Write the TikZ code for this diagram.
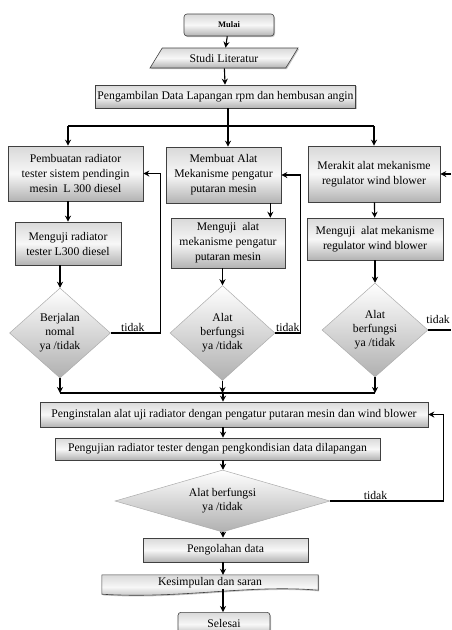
\documentclass[tikz,border=0pt]{standalone}
\usepackage{fontspec}
\setmainfont{Liberation Serif}
\usetikzlibrary{arrows.meta, positioning, shapes.geometric, shadows, calc, backgrounds}

\begin{document}
\begin{tikzpicture}[x=1pt, y=-1pt, font=\fontsize{11.7}{15}\selectfont,
  arr/.style={-{Stealth[length=6pt, width=6pt]}, line width=1.1pt},
  line/.style={line width=1.1pt},
  box/.style={draw=black!75, line width=0.6pt, top color=gray!30, bottom color=gray!60,
    middle color=gray!6, drop shadow={shadow xshift=1pt, shadow yshift=-1.2pt, opacity=0.45},
    align=center, inner sep=2pt},
  dec/.style={diamond, draw=gray!65, line width=0.5pt, top color=white, bottom color=gray!62,
    align=center, inner sep=0pt, aspect=1.1, font=\fontsize{11.7}{14}\selectfont},
  lbl/.style={inner sep=1pt, font=\fontsize{11.7}{12}\selectfont}]

\clip (0,0) rectangle (451,630);

% ---- start ---------------------------------------------------------------
\node[box, rounded corners=3pt, minimum width=90pt, minimum height=22pt,
  font=\fontsize{8.5}{9}\selectfont\bfseries] (mulai) at (229,25) {Mulai};
\node[box, trapezium, trapezium left angle=45, trapezium right angle=135,
  trapezium stretches body=true, minimum width=148pt, minimum height=20pt] (studi) at (224,58)
  {Studi Literatur};
\node[box, minimum width=255pt, minimum height=23pt] (ambil) at (225.5,96.5)
  {Pengambilan Data Lapangan rpm dan hembusan angin};

% ---- three branches -----------------------------------------------------
\node[box, minimum width=135pt, minimum height=55pt] (buat1) at (75.5,173.5)
  {Pembuatan radiator\\tester sistem pendingin\\mesin~ L 300 diesel};
\node[box, minimum width=106pt, minimum height=43pt] (uji1) at (68,243.5)
  {Menguji radiator\\tester L300 diesel};
\node[dec, minimum width=101pt, minimum height=90pt] (d1) at (60,333)
  {Berjalan\\nomal\\ya /tidak};

\node[box, minimum width=115pt, minimum height=56pt] (buat2) at (223.5,175)
  {Membuat Alat\\Mekanisme pengatur\\putaran mesin};
\node[box, minimum width=114pt, minimum height=50pt] (uji2) at (228,243)
  {Menguji~ alat\\mekanisme pengatur\\putaran mesin};
\node[dec, minimum width=105pt, minimum height=95pt] (d2) at (222.5,333)
  {Alat\\berfungsi\\ya /tidak};

\node[box, minimum width=132pt, minimum height=56pt] (buat3) at (374,174)
  {Merakit alat mekanisme\\regulator wind blower};
\node[box, minimum width=136pt, minimum height=42pt] (uji3) at (375,239)
  {Menguji~ alat mekanisme\\regulator wind blower};
\node[dec, minimum width=106pt, minimum height=94pt] (d3) at (375,330)
  {Alat\\berfungsi\\ya /tidak};

% ---- joined part --------------------------------------------------------
\node[box, minimum width=388pt, minimum height=25pt] (instal) at (234,414.5)
  {Penginstalan alat uji radiator dengan pengatur putaran mesin dan wind blower};
\node[box, minimum width=325pt, minimum height=22pt] (uji4) at (217.5,449)
  {Pengujian radiator tester dengan pengkondisian data dilapangan};
\node[dec, aspect=3.5, minimum width=215pt, minimum height=62pt] (d4) at (222.5,501)
  {Alat berfungsi\\ya /tidak};
\node[box, minimum width=165pt, minimum height=24pt] (olah) at (225.5,550)
  {Pengolahan data};
\node[inner sep=2pt, minimum width=216pt, minimum height=16pt] (simpul) at (210,583)
  {Kesimpulan dan saran};
\begin{scope}[on background layer]
  \path[box] (simpul.north west) -- (simpul.north east) -- ($(simpul.south east)+(0,-1)$)
    .. controls ($(simpul.south east)+(-70,-7)$) and ($(simpul.south west)+(80,8)$)
    .. ($(simpul.south west)+(0,3)$) -- cycle;
\end{scope}
\node[box, rounded corners=3pt, minimum width=92pt, minimum height=24pt, anchor=north]
  (selesai) at (224,612) {\raisebox{2pt}{Selesai}};

% ---- connectors ---------------------------------------------------------
\coordinate (split) at (228,126);
\coordinate (merge) at (223,393);
\coordinate (out3) at (451,330);
\coordinate (in3) at (451,173);

\draw[arr] (mulai) -- (studi);
\draw[arr] (studi) -- (ambil);
\draw[line] (split |- ambil.south) -- (split);
\draw[line] (split -| uji1) -- (split -| buat3);
\draw[arr] (split -| uji1) -- (uji1 |- buat1.north);
\draw[arr] (split) -- (split |- buat2.north);
\draw[arr] (split -| buat3) -- (buat3.north);

\draw[arr] (uji1.north |- buat1.south) -- (uji1.north);
\draw[arr] (d1.north |- uji1.south) -- (d1.north);
\draw[arr] ([xshift=-11pt]buat2.south east) -- ([xshift=-11pt]buat2.south east |- uji2.north);
\draw[arr] (d2.north |- uji2.south) -- (d2.north);
\draw[arr] (buat3) -- (uji3);
\draw[arr] (uji3) -- (d3);

% ---- loops back ---------------------------------------------------------
\draw[arr] (d1.east) -- ++(50,0) node[lbl, pos=0.44, above] {tidak} |- (buat1.east);
\draw[arr] (d2.east) -- ++(25,0) node[lbl, pos=0.5, above] {tidak} |- (buat2.east);
\draw[line] (d3.east) -- (out3);
\node[lbl, anchor=south east, yshift=5pt] at (out3) {tidak};
\draw[arr] (in3 |- buat3.east) -- (buat3.east);
\draw[arr] (d4.east) -- ++(113,0) node[lbl, pos=0.4, above] {tidak} |- (instal.east);

% ---- merge and main line ------------------------------------------------
\draw[arr] (d1.south) -- (d1.south |- merge);
\draw[arr] (d2.south) -- (d2.south |- merge);
\draw[arr] (d3.south) -- (d3.south |- merge);
\draw[line] (d1.south |- merge) -- (d3.south |- merge);
\draw[arr] (merge) -- (merge |- instal.north);
\draw[arr] (instal.south -| merge) -- (uji4.north -| merge);
\draw[arr] (uji4.south -| merge) -- (d4.north -| merge);
\draw[arr] (d4.south -| merge) -- (olah.north -| merge);
\draw[arr] (olah.south -| merge) -- ($(simpul.north -| merge)$);
\draw[arr] ($(simpul.south -| merge)+(0,-2)$) -- (selesai.north -| merge);
\end{tikzpicture}
\end{document}
